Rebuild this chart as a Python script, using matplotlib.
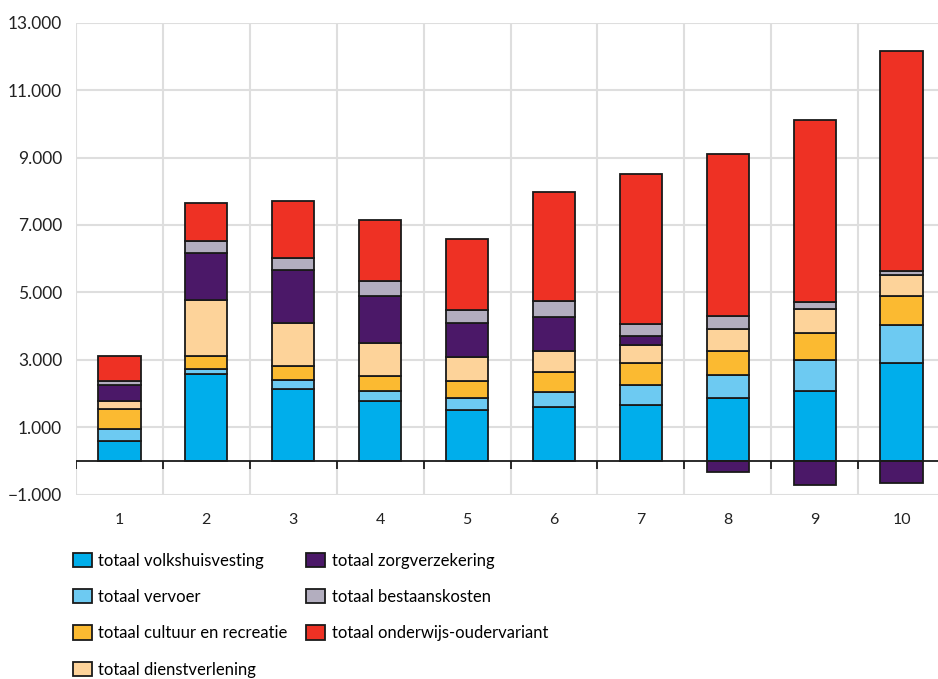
import matplotlib
matplotlib.use("Agg")
import matplotlib.pyplot as plt
from matplotlib.ticker import FuncFormatter, FixedLocator
import numpy as np

plt.rcParams['font.family'] = ['Lato', 'DejaVu Sans']

categories = ["1", "2", "3", "4", "5", "6", "7", "8", "9", "10"]

series_names = [
    "totaal volkshuisvesting",
    "totaal vervoer",
    "totaal cultuur en recreatie",
    "totaal dienstverlening",
    "totaal zorgverzekering",
    "totaal bestaanskosten",
    "totaal onderwijs-oudervariant",
]

volkshuisvesting = [580, 2580, 2150, 1785, 1520, 1615, 1655, 1875, 2090, 2900]
vervoer          = [375, 160, 245, 305, 355, 425, 585, 690, 905, 1125]
cultuur          = [600, 375, 425, 435, 505, 600, 660, 710, 810, 865]
dienstverlening  = [220, 1665, 1265, 965, 690, 630, 535, 640, 700, 630]
zorgverzekering  = [480, 1400, 1575, 1410, 1025, 990, 285, -335, -710, -660]
bestaanskosten   = [120, 335, 365, 425, 375, 485, 345, 385, 220, 130]
onderwijs        = [740, 1145, 1675, 1835, 2100, 3225, 4435, 4805, 5395, 6510]

colors = ["#00AEEB", "#6DCAF2", "#FBBA31", "#FDD39A", "#4B1868", "#B3AEBF", "#EE3124"]

y_ticks = [-1000, 1000, 3000, 5000, 7000, 9000, 11000, 13000]

all_series = [volkshuisvesting, vervoer, cultuur, dienstverlening,
              zorgverzekering, bestaanskosten, onderwijs]

W, H = 938, 679
fig = plt.figure(figsize=(W / 100, H / 100), dpi=100)
left, right = 76, 945
top, bottom = 22.7, 494.7
ax = fig.add_axes([left / W, 1 - bottom / H, (right - left) / W, (bottom - top) / H])

x = np.arange(len(categories))
pos_bottom = np.zeros(len(categories))
neg_bottom = np.zeros(len(categories))
handles = []
for name, vals, col in zip(series_names, all_series, colors):
    v = np.array(vals, dtype=float)
    b = np.where(v >= 0, pos_bottom, neg_bottom)
    h = ax.bar(x, v, bottom=b, width=0.485, color=col, edgecolor="#1a1a1a",
               linewidth=1.3, label=name, zorder=3)
    handles.append(h)
    pos_bottom += np.where(v >= 0, v, 0)
    neg_bottom += np.where(v < 0, v, 0)

ax.set_xlim(-0.5, len(categories) - 0.5)
ax.set_ylim(-1000, 13000)

boundaries = np.arange(-0.5, len(categories) + 0.5, 1.0)
ax.set_yticks(y_ticks)
ax.yaxis.set_major_formatter(FuncFormatter(
    lambda v, p: ("\u2212" if v < 0 else "") + f"{abs(int(v)):,}".replace(",", ".")))
ax.xaxis.set_minor_locator(FixedLocator(boundaries))
ax.set_xticks(x)
ax.set_xticklabels(categories)
ax.grid(True, axis="y", which="major", color="#dedede", linewidth=1.5, zorder=0)
ax.grid(True, axis="x", which="minor", color="#dedede", linewidth=1.5, zorder=0)
ax.grid(False, axis="x", which="major")
ax.tick_params(axis="x", which="both", length=0, labelsize=11.5, pad=13, colors="#222222")
ax.tick_params(axis="y", which="both", length=0, labelsize=12.5, pad=10, colors="#222222")
for s in ax.spines.values():
    s.set_visible(False)

# zero line with small boundary tick marks (8 px downward)
ax.axhline(0, color="#1a1a1a", linewidth=1.3, zorder=4)
px_per_unit = (bottom - top) / 14000.0
ax.vlines(boundaries, 0, -8 / px_per_unit, color="#1a1a1a", linewidth=1.3, zorder=4)

leg = fig.legend(handles=handles, labels=series_names, ncol=2,
                 loc="upper left", bbox_to_anchor=(66 / W, 1 - 546 / H),
                 frameon=False, fontsize=12, handlelength=1.15, handleheight=0.95,
                 labelspacing=1.22, columnspacing=1.1, handletextpad=0.4,
                 borderaxespad=0)

fig.savefig("out.png", dpi=100)
